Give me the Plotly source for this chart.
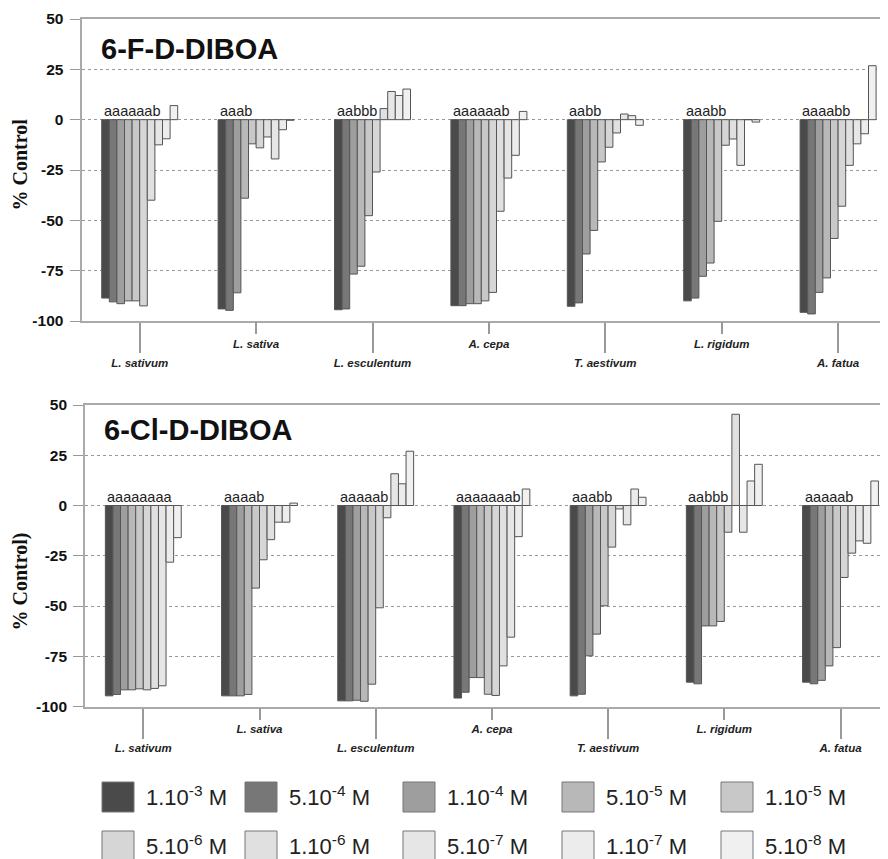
import plotly.graph_objects as go

W, H = 888, 859
OFF = 8  # page body margin of the html page (screen px = figure px + OFF)

species = ["L. sativum", "L. sativa", "L. esculentum", "A. cepa", "T. aestivum", "L. rigidum", "A. fatua"]
conc_labels = ["1.10<sup>-3</sup> M", "5.10<sup>-4</sup> M", "1.10<sup>-4</sup> M", "5.10<sup>-5</sup> M", "1.10<sup>-5</sup> M",
               "5.10<sup>-6</sup> M", "1.10<sup>-6</sup> M", "5.10<sup>-7</sup> M", "1.10<sup>-7</sup> M", "5.10<sup>-8</sup> M"]
colors = ["#4a4a4a", "#777777", "#9e9e9e", "#b8b8b8", "#c8c8c8", "#d6d6d6", "#e0e0e0", "#e6e6e6", "#ececec", "#f0f0f0"]

# values per species: 10 concentrations (high -> low)
f_vals = {
    "L. sativum":    [-88.6, -90.5, -91.4, -90.0, -90.0, -92.5, -40.0, -12.5, -9.5, 7.0],
    "L. sativa":     [-94.0, -94.7, -86.0, -39.0, -12.0, -14.0, -8.6, -19.5, -5.0, -0.3],
    "L. esculentum": [-94.4, -94.0, -76.7, -72.8, -47.7, -26.0, 5.5, 14.0, 12.0, 15.2],
    "A. cepa":       [-92.4, -92.4, -91.4, -91.4, -90.0, -85.8, -45.5, -29.0, -17.7, 4.1],
    "T. aestivum":   [-92.7, -91.0, -66.7, -55.0, -21.0, -13.7, -6.6, 2.8, 2.0, -2.8],
    "L. rigidum":    [-90.0, -88.6, -77.8, -71.2, -50.5, -12.7, -9.6, -22.7, 0.0, -1.2],
    "A. fatua":      [-95.7, -96.5, -85.8, -78.6, -59.0, -43.0, -22.7, -12.0, -7.0, 26.8],
}
cl_vals = {
    "L. sativum":    [-94.7, -94.0, -91.7, -91.7, -91.2, -91.7, -91.0, -89.7, -28.2, -16.0],
    "L. sativa":     [-94.7, -94.7, -94.7, -94.0, -41.1, -27.0, -17.0, -8.3, -8.3, 1.2],
    "L. esculentum": [-97.2, -97.2, -96.9, -97.4, -88.9, -50.9, -6.1, 15.8, 10.8, 27.0],
    "A. cepa":       [-95.8, -92.9, -85.6, -85.6, -93.9, -94.5, -79.8, -65.5, -15.5, 8.2],
    "T. aestivum":   [-94.7, -93.9, -74.8, -64.0, -49.9, -20.7, -1.7, -9.6, 8.2, 4.1],
    "L. rigidum":    [-87.9, -88.7, -59.9, -59.9, -57.7, -13.3, 45.4, -13.3, 12.2, 20.5],
    "A. fatua":      [-87.9, -88.7, -87.0, -79.8, -70.7, -35.8, -23.7, -17.6, -18.8, 12.2],
}
f_letters = ["aaaaaab", "aaab", "aabbb", "aaaaaab", "aabb", "aaabb", "aaaabb"]
cl_letters = ["aaaaaaaa", "aaaab", "aaaaab", "aaaaaaab", "aaabb", "aabbb", "aaaaab"]

yticks = [-100, -75, -50, -25, 0, 25, 50]
ytick_text = ["-100", "-75", "-50", "-25", "0", "25", "50"]

SANS = "Liberation Sans, Arial, sans-serif"
SERIF = "Liberation Serif, Times New Roman, serif"

BARGAP = 0.347
xs = list(range(len(species)))

fig = go.Figure()
for k in range(len(conc_labels)):
    fig.add_trace(go.Bar(x=xs, y=[f_vals[s][k] for s in species], xaxis="x", yaxis="y",
                         marker=dict(color=colors[k], line=dict(color="#555555", width=1)),
                         showlegend=False, name=conc_labels[k]))
    fig.add_trace(go.Bar(x=xs, y=[cl_vals[s][k] for s in species], xaxis="x2", yaxis="y2",
                         marker=dict(color=colors[k], line=dict(color="#555555", width=1)),
                         showlegend=False, name=conc_labels[k]))
# empty helper traces so the overlay axes (staggered labels) get drawn
fig.add_trace(go.Scatter(x=[], y=[], xaxis="x3", yaxis="y", showlegend=False, hoverinfo="skip"))
fig.add_trace(go.Scatter(x=[], y=[], xaxis="x4", yaxis="y2", showlegend=False, hoverinfo="skip"))

def px_x(p):
    return (p - OFF) / W

def px_y(p):
    return 1 - (p - OFF) / H

top_dom_x = [px_x(81.5), 1]
bot_dom_x = [px_x(85.2), 1]
top_dom_y = [px_y(321), px_y(19)]
bot_dom_y = [px_y(706.5), px_y(405)]
right_edge = W + OFF
top_rng = [-0.5, -0.5 + (right_edge - 81.5) / 116.4]
bot_rng = [-0.5, -0.5 + (right_edge - 85.2) / 116.2]

tickfont_x = dict(family=SANS, size=11.5, color="#222222", weight="bold", style="italic")
tickfont_y = dict(family=SANS, size=15.5, color="#111111", weight="bold")
even = [i for i in xs if i % 2 == 0]
odd = [i for i in xs if i % 2 == 1]

def xaxis_main(dom, rng, anchor):
    return dict(domain=dom, range=rng, anchor=anchor, type="linear", automargin=False,
                tickvals=even, ticktext=[species[i] for i in even],
                ticks="outside", ticklen=30, tickcolor="#999999", tickwidth=1.5,
                tickfont=tickfont_x, showline=True, linecolor="#aaaaaa", linewidth=2,
                mirror=True, showgrid=False, zeroline=False, fixedrange=True)

def xaxis_over(dom, rng, anchor, over):
    return dict(domain=dom, range=rng, anchor=anchor, overlaying=over, type="linear", automargin=False,
                tickvals=odd, ticktext=[species[i] for i in odd],
                ticks="outside", ticklen=12, tickcolor="#999999", tickwidth=1.5,
                tickfont=tickfont_x, showline=False, showgrid=False, zeroline=False)

def yaxis(dom, anchor):
    return dict(domain=dom, range=[-100, 50], anchor=anchor, automargin=False,
                tickvals=yticks, ticktext=ytick_text, ticklabelstandoff=3,
                ticks="outside", ticklen=10, tickcolor="#999999", tickwidth=1,
                tickfont=tickfont_y, showline=True, linecolor="#aaaaaa", linewidth=2,
                showgrid=True, gridcolor="#999999", griddash="dot", gridwidth=1,
                zeroline=False)

fig.update_layout(
    template="none",
    width=W, height=H, margin=dict(l=0, r=0, t=0, b=0, pad=0, autoexpand=False),
    paper_bgcolor="white", plot_bgcolor="white",
    barmode="group", bargap=BARGAP, bargroupgap=0,
    xaxis=xaxis_main(top_dom_x, top_rng, "y"),
    xaxis2=xaxis_main(bot_dom_x, bot_rng, "y2"),
    xaxis3=xaxis_over(top_dom_x, top_rng, "y", "x"),
    xaxis4=xaxis_over(bot_dom_x, bot_rng, "y2", "x2"),
    yaxis=yaxis(top_dom_y, "x"),
    yaxis2=yaxis(bot_dom_y, "x2"),
    showlegend=False,
)

annotations = []
# significance letters
for xr, yr, letters in (("x", "y", f_letters), ("x2", "y2", cl_letters)):
    for i, t in enumerate(letters):
        annotations.append(dict(x=i - (1 - BARGAP) / 2, y=0, xref=xr, yref=yr, text=t, showarrow=False,
                                xanchor="left", yanchor="bottom", yshift=-1,
                                font=dict(family=SANS, size=14.5, color="#222222")))
# panel titles
annotations.append(dict(x=px_x(99), y=px_y(49), xref="paper", yref="paper", text="6-F-D-DIBOA",
                        showarrow=False, xanchor="left", yanchor="middle",
                        font=dict(family=SANS, size=29, color="#111111", weight="bold")))
annotations.append(dict(x=px_x(102), y=px_y(430), xref="paper", yref="paper", text="6-Cl-D-DIBOA",
                        showarrow=False, xanchor="left", yanchor="middle",
                        font=dict(family=SANS, size=29, color="#111111", weight="bold")))
# y titles
annotations.append(dict(x=px_x(19.5), y=px_y(165), xref="paper", yref="paper", text="% Control",
                        showarrow=False, textangle=-90, xanchor="center", yanchor="middle",
                        font=dict(family=SERIF, size=20, color="#111111", weight="bold")))
annotations.append(dict(x=px_x(19.5), y=px_y(582), xref="paper", yref="paper", text="% Control)",
                        showarrow=False, textangle=-90, xanchor="center", yanchor="middle",
                        font=dict(family=SERIF, size=20, color="#111111", weight="bold")))

# legend (drawn manually)
shapes = []
leg_x = [102, 245, 403, 562, 721]
leg_y = [782, 831]
for k, lab in enumerate(conc_labels):
    r, c = divmod(k, 5)
    x0, y0 = leg_x[c], leg_y[r]
    shapes.append(dict(type="rect", xref="paper", yref="paper",
                       x0=px_x(x0), x1=px_x(x0 + 32), y0=px_y(y0 + 30), y1=px_y(y0),
                       fillcolor=colors[k], line=dict(color="#777777", width=1)))
    annotations.append(dict(x=px_x(x0 + 42), y=px_y(y0 + 14), xref="paper", yref="paper", text=lab,
                            showarrow=False, xanchor="left", yanchor="middle",
                            font=dict(family=SANS, size=22, color="#222222")))

fig.update_layout(annotations=annotations, shapes=shapes)
fig.write_html("out.html")
